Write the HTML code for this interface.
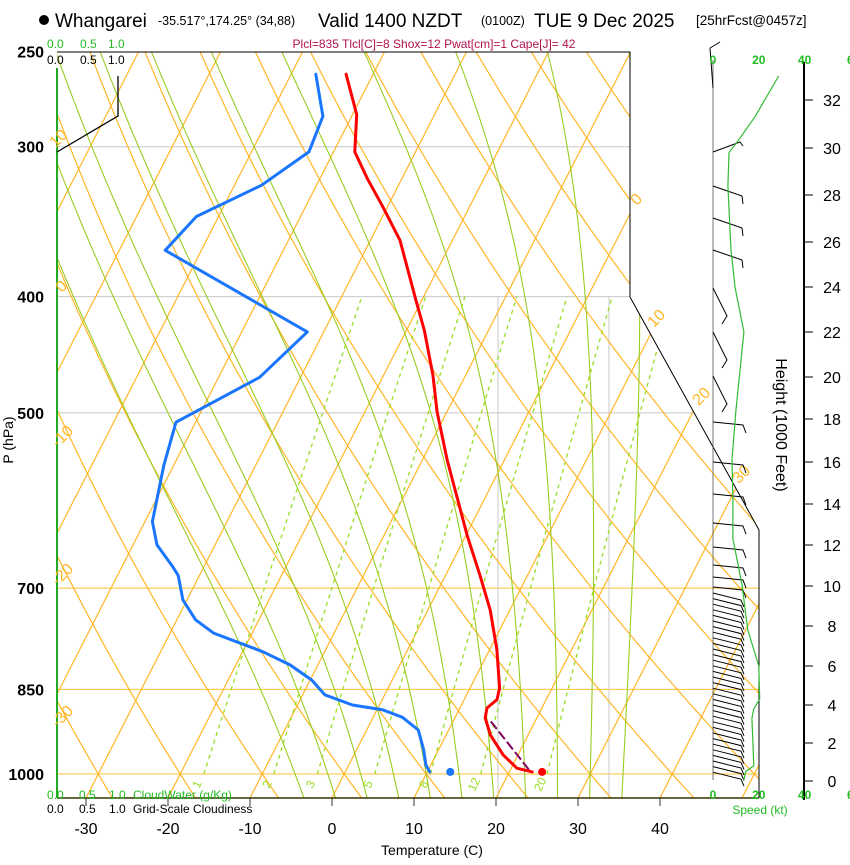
<!DOCTYPE html>
<html><head><meta charset="utf-8">
<style>
html,body{margin:0;padding:0;background:#fff;}
body{width:850px;height:860px;overflow:hidden;font-family:"Liberation Sans",sans-serif;}
svg text{font-family:"Liberation Sans",sans-serif;}
</style></head>
<body>
<svg id="chart" width="850" height="860" viewBox="0 0 850 860" xmlns="http://www.w3.org/2000/svg">
<defs>
<clipPath id="plotclip"><polygon points="57,52 630,52 630,297 759,530 759,798 57,798"/></clipPath>
</defs>
<g id="header">
<circle cx="44" cy="20" r="5" fill="#000"/>
<text x="55" y="27" font-size="19">Whangarei</text>
<text x="158" y="25" font-size="12.5">-35.517°,174.25° (34,88)</text>
<text x="318" y="27" font-size="19">Valid 1400 NZDT</text>
<text x="481" y="25" font-size="12.5">(0100Z)</text>
<text x="534" y="27" font-size="19">TUE 9 Dec 2025</text>
<text x="696" y="25" font-size="13.5">[25hrFcst@0457z]</text>
<text x="434" y="48" font-size="12" fill="#b0124e" text-anchor="middle">Plcl=835 Tlcl[C]=8 Shox=12 Pwat[cm]=1 Cape[J]= 42</text>
</g>
<g id="bg" clip-path="url(#plotclip)"></g>
<g id="fg"></g>
</svg>
<script>
// ---- data ----
const tempP=[261,282,303,319,336,359,403,427,465,499,547,597,632,683,730,788,848,867,881,898,928,964,989,996];
const tempC=[-43.3,-39.5,-37.4,-34.2,-30.7,-26.4,-20.7,-17.8,-14.0,-11.2,-7.0,-2.7,0.1,4.2,7.6,10.9,13.6,14.0,13.3,13.7,15.4,18.2,20.7,22.8];
const dewP=[261,283,303,323,343,366,428,467,509,553,616,644,671,683,716,744,763,791,811,835,859,876,884,897,919,955,983,996];
const dewC=[-47.0,-43.5,-43.0,-46.7,-52.7,-54.4,-32.0,-35.0,-42.4,-41.2,-39.1,-37.1,-33.9,-32.6,-30.5,-27.7,-24.7,-17.5,-13.4,-9.8,-7.3,-3.3,0.7,3.6,6.3,8.2,9.4,10.3];
const parcelP=[905,996];
const parcelC=[14.7,22.6];
const sfcTemp=24.0, sfcDew=12.8, sfcP=996;
const pressLabels=[250,300,400,500,700,850,1000];
const tempTicks=[-30,-20,-10,0,10,20,30,40];
const mixRatios=[1,2,3,5,8,12,20];
const heightTicks=[0,2,4,6,8,10,12,14,16,18,20,22,24,26,28,30,32];
const heightTickY=[781,743,705,666,626,586,545,504,462,419,377,332,287,242,195,148,100];
const windSpeed=[28.7,18.3,10.9,7,6.5,7.8,9.6,13.5,10,8.3,8.7,8.7,12.6,15.2,20,20.4,17.8,17,17.4,17.8,14.3,13.5];
const windHeight=[33.0,31.3,30.3,29.8,28.4,25.7,24,22,18.4,16.1,14.2,12.3,10.1,7.8,6,4.3,3.8,3.3,2.2,0.8,0.5,0.05];

// ---- axes ----
const NS="http://www.w3.org/2000/svg";
function yP(p){return 774+521*Math.log(p/1000);}
function xT(t,y){return 332+8.2*t+0.51*(798-y);}
function xSpd(s){return 713+s*2.29;}
function yH(h){
  for(let i=0;i<heightTicks.length-1;i++){
    if(h<=heightTicks[i+1]||i==heightTicks.length-2){
      const f=(h-heightTicks[i])/(heightTicks[i+1]-heightTicks[i]);
      return heightTickY[i]+f*(heightTickY[i+1]-heightTickY[i]);
    }
  }
}
function mk(tag,attrs,parent){const e=document.createElementNS(NS,tag);for(const k in attrs)e.setAttribute(k,attrs[k]);parent.appendChild(e);return e;}
const bg=document.getElementById('bg'), fg=document.getElementById('fg');
function pathFrom(pts){return pts.map((p,i)=>(i?'L':'M')+p[0].toFixed(1)+','+p[1].toFixed(1)).join(' ');}

// isobars
[[300,'#c8c8c8'],[400,'#c8c8c8'],[500,'#c8c8c8'],[700,'#ffc030'],[850,'#ffc030'],[1000,'#ffc030']].forEach(a=>{
  const y=yP(a[0]);
  const l=mk('line',{x1:57,x2:760,y1:y,y2:y,stroke:a[1],'stroke-width':1},bg);
  
  
});
// gray verticals
[498,609].forEach(x=>{
  const l=mk('line',{x1:x,x2:x,y1:297,y2:798,stroke:'#c8c8c8','stroke-width':1},bg);
  
  
});
// isotherms
for(let t=-110;t<=50;t+=10){
  const l=mk('line',{x1:xT(t,798),y1:798,x2:xT(t,52),y2:52,stroke:'#ffb627','stroke-width':1.2},bg);
  
  
}
// dry adiabats
for(let th=-40;th<=170;th+=10){
  const pts=[];
  for(let p=1060;p>=245;p-=15){const T=(th+273.15)*Math.pow(p/1000,0.286)-273.15;const y=yP(p);pts.push([xT(T,y),y]);}
  const l=mk('path',{d:pathFrom(pts),fill:'none',stroke:'#ffb627','stroke-width':1.2},bg);
  
  
}
// moist adiabats
function es(T){return 6.112*Math.exp(17.67*T/(T+243.5));}
for(let tw=-6;tw<=34;tw+=4){
  let T=tw+273.15;const up=[],dn=[];
  let lp=Math.log(1000);const dl=-0.01;
  function step(T,p,d){const rs=0.622*es(T-273.15)/(p-es(T-273.15));const Lv=2.5e6;
    const g=(287*T+Lv*rs)/(1004+Lv*Lv*rs*0.622/(287*T*T));return T+g*d;}
  let Tc=T;for(let i=0;i<=140;i++){const p=Math.exp(lp);up.push([xT(Tc-273.15,yP(p)),yP(p)]);Tc=step(Tc,p,dl);lp+=dl;if(p<250)break;}
  Tc=T;lp=Math.log(1000);for(let i=0;i<6;i++){const p=Math.exp(lp);dn.push([xT(Tc-273.15,yP(p)),yP(p)]);Tc=step(Tc,p,0.01);lp+=0.01;}
  const pts=dn.reverse().concat(up);
  const l=mk('path',{d:pathFrom(pts),fill:'none',stroke:'#99cc22','stroke-width':1.1},bg);
  
  
}
// mixing ratio lines
mixRatios.forEach(w=>{
  const pts=[];
  for(let p=1000;p>=400;p-=10){const e=w*p/(622+w);const a=Math.log(e/6.112);const Td=243.5*a/(17.67-a);const y=yP(p);pts.push([xT(Td,y),y]);}
  const l=mk('path',{d:pathFrom(pts),fill:'none',stroke:'#99dd22','stroke-width':1.3,'stroke-dasharray':'4,4'},bg);
  
  
  const e=w*1000/(622+w);const a=Math.log(e/6.112);const Td=243.5*a/(17.67-a);
  const tx=xT(Td,786)+3;
  const t=mk('text',{x:tx,y:786,'font-size':12,fill:'#99dd22','text-anchor':'middle',transform:'rotate(-65 '+tx+' 786)'},fg);
  t.textContent=w;
  
  
});

// frame
const frame=[['M57,52 L630,52 L630,297 L759,530 L759,798','#000',1],['M57,798 L759,798','#333300',1.5]];
frame.forEach(f=>{const l=mk('path',{d:f[0],fill:'none',stroke:f[1],'stroke-width':f[2]},fg);
  
  });
const gl=mk('line',{x1:57,x2:57,y1:68,y2:798,stroke:'#22aa22','stroke-width':2},fg);


const cl=mk('path',{d:'M57,152 L118,116 L118,76',fill:'none',stroke:'#000','stroke-width':1.3},fg);



// theta labels
[['0',65,290],['-10',66,440],['-20',66,578],['-30',66,720],['10',62,142],['0',640,203],['10',660,322],['20',705,400],['30',745,478]].forEach(a=>{
  const t=mk('text',{x:a[1],y:a[2],'font-size':16,fill:'#ffb627','text-anchor':'middle',transform:'rotate(-45 '+a[1]+' '+a[2]+')'},fg);
  t.textContent=a[0];
  
  
});

// pressure labels
pressLabels.forEach(p=>{
  const t=mk('text',{x:44,y:yP(p)+6,'font-size':16,'font-weight':'bold','text-anchor':'end'},fg);
  t.textContent=p;
  
  
});
// temperature ticks
tempTicks.forEach(T=>{
  const x=xT(T,798);
  const l=mk('line',{x1:x,x2:x,y1:798,y2:806,stroke:'#333','stroke-width':1},fg);
  
  
  const t=mk('text',{x:x,y:834,'font-size':16,'text-anchor':'middle'},fg);
  t.textContent=T;
  
  
});

// profiles
function prof(P,C,color,w,name,dash){
  const pts=P.map((p,i)=>{const y=yP(p);return [xT(C[i],y),y];});
  const l=mk('path',{d:pathFrom(pts),fill:'none',stroke:color,'stroke-width':w,'stroke-linejoin':'round','stroke-linecap':'round'},fg);
  if(dash)l.setAttribute('stroke-dasharray',dash);
  
  
}
prof(parcelP,parcelC,'#800060',2,'parcel-path','8,5');
prof(dewP,dewC,'#1a75ff',3,'dewpoint-line');
prof(tempP,tempC,'#ff0000',3,'temperature-line');
[[sfcTemp,'#ff0000','surface-temp-dot'],[sfcDew,'#1a75ff','surface-dew-dot']].forEach(a=>{
  const y=yP(sfcP);
  const c=mk('circle',{cx:xT(a[0],y),cy:y,r:4,fill:a[1]},fg);
  
  
});

// wind barbs
const barbY=[78,152,186,218,250,288,332,376,422,462,494,523,547,565,577,587];
const bs=mk('line',{x1:713,x2:713,y1:60,y2:780,stroke:'#555','stroke-width':0.8},fg);


for(let y=593;y<=775;y+=5.6)barbY.push(y);
barbY.forEach(y=>{
  let d;
  if(y<100)d='M713,'+(y+10)+' L710,'+(y-30)+' M710,'+(y-30)+' L720,'+(y-36);
  else if(y<160)d='M713,'+y+' L740,'+(y-10)+' L743,'+(y-6);
  else if(y<260)d='M713,'+y+' L742,'+(y+10)+' L743,'+(y+18);
  else if(y<400)d='M713,'+y+' L727,'+(y+28)+' L722,'+(y+36);
  else if(y<590)d='M713,'+y+' L743,'+(y+3)+' L746,'+(y+11);
  else d='M713,'+y+' L741,'+(y+7)+' L744,'+(y+14);
  const b=mk('path',{d:d,fill:'none',stroke:'#000','stroke-width':1},fg);
  
  
});
// wind speed line
const wpts=windSpeed.map((s,i)=>[xSpd(s),yH(windHeight[i])]);
const wl=mk('path',{d:pathFrom(wpts),fill:'none',stroke:'#33bb33','stroke-width':1.2},fg);



// height axis
const ha=mk('line',{x1:804,x2:804,y1:62,y2:800,stroke:'#000','stroke-width':2},fg);


heightTicks.forEach((h,i)=>{
  const y=heightTickY[i];
  const l=mk('line',{x1:804,x2:813,y1:y,y2:y,stroke:'#000','stroke-width':1},fg);
  
  
  const t=mk('text',{x:832,y:y+6,'font-size':16,'text-anchor':'middle'},fg);
  t.textContent=h;
  
  
});
// speed labels
[[0,'#22bb22'],[20,'#22bb22'],[40,'#22bb22'],[60,'#22bb22']].forEach(a=>{
  [64,799].forEach(y=>{
    const t=mk('text',{x:xSpd(a[0]),y:y,'font-size':12,'font-weight':'bold',fill:a[1],'text-anchor':'middle'},fg);
    t.textContent=a[0]==60?'6':a[0];
    
    
  });
});
</script>
<svg style="position:absolute;left:0;top:0" width="850" height="860">
<text x="47" y="48" font-size="12" fill="#22bb22">0.0</text>
<text x="80" y="48" font-size="12" fill="#22bb22">0.5</text>
<text x="108" y="48" font-size="12" fill="#22bb22">1.0</text>
<text x="47" y="64" font-size="12">0.0</text>
<text x="80" y="64" font-size="12">0.5</text>
<text x="108" y="64" font-size="12">1.0</text>
<text x="47" y="799" font-size="12" fill="#22bb22">0.0</text>
<text x="79" y="799" font-size="12" fill="#22bb22">0.5</text>
<text x="109" y="799" font-size="12" fill="#22bb22">1.0</text>
<text x="133" y="799" font-size="12" fill="#22bb22">CloudWater (g/Kg)</text>
<text x="47" y="813" font-size="12">0.0</text>
<text x="79" y="813" font-size="12">0.5</text>
<text x="109" y="813" font-size="12">1.0</text>
<text x="133" y="813" font-size="12">Grid-Scale Cloudiness</text>
<text x="432" y="855" font-size="14" text-anchor="middle">Temperature (C)</text>
<text x="13" y="440" font-size="14" text-anchor="middle" transform="rotate(-90 13 440)">P (hPa)</text>
<text x="776" y="425" font-size="16" text-anchor="middle" transform="rotate(90 776 425)">Height (1000 Feet)</text>
<text x="760" y="814" font-size="12" fill="#22bb22" text-anchor="middle">Speed (kt)</text>
</svg>
</body></html>
